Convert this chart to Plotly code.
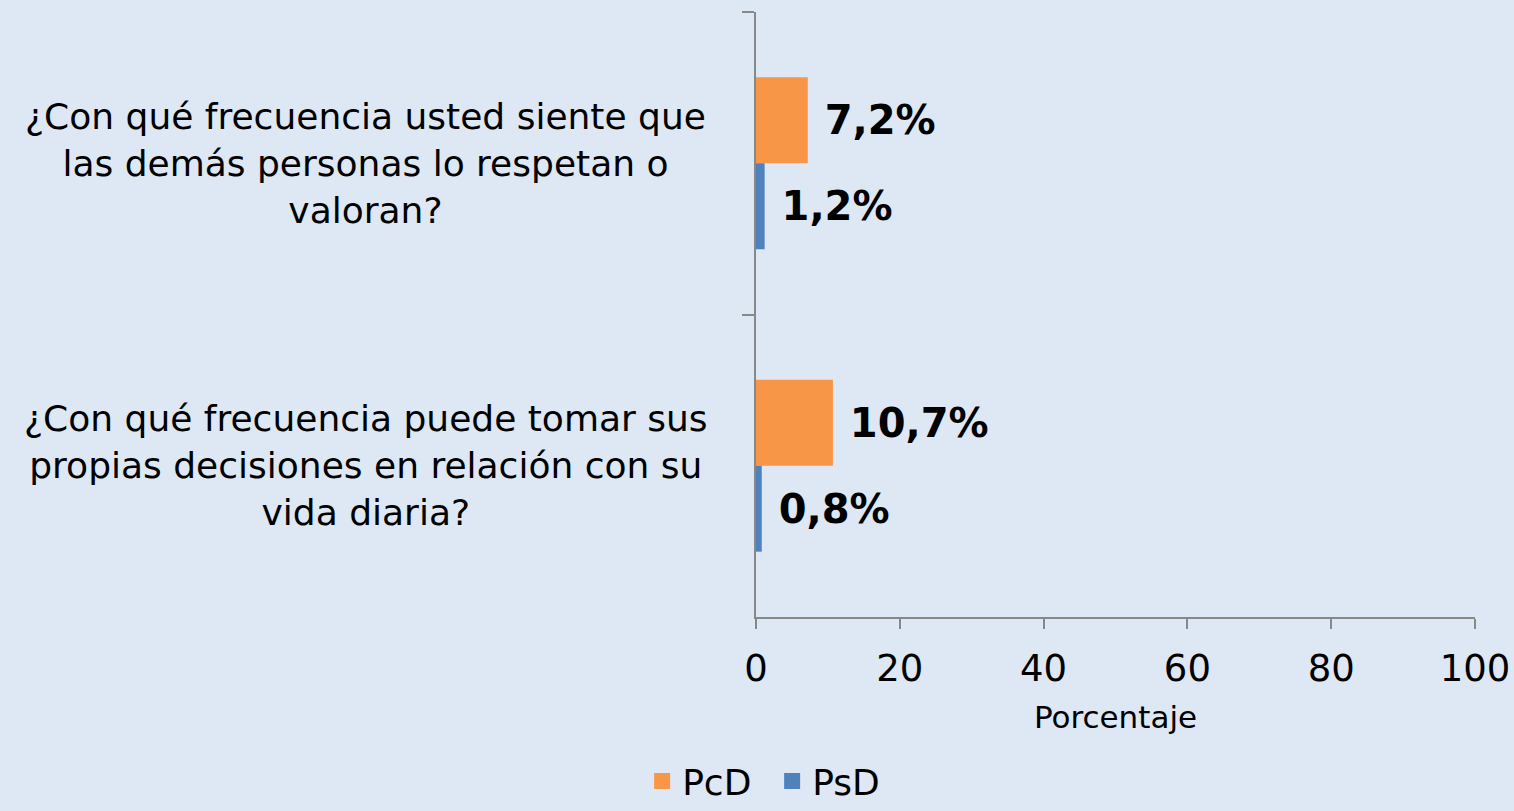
import plotly.graph_objects as go

categorias = [
    "¿Con qué frecuencia usted siente que<br>las demás personas lo respetan o<br>valoran?",
    "¿Con qué frecuencia puede tomar sus<br>propias decisiones en relación con su<br>vida diaria?",
]
claves = ["q1", "q2"]
series = ["PcD", "PsD"]
colores = ["#f79646", "#4f81bd"]
pcd = [7.2, 10.7]
psd = [1.2, 0.8]
etiquetas_pcd = ["7,2%", "10,7%"]
etiquetas_psd = ["1,2%", "0,8%"]

fondo = "#dde8f4"
fuente = "DejaVu Sans"

fig = go.Figure()
for nombre, color, valores, etiquetas in zip(series, colores, [pcd, psd],
                                              [etiquetas_pcd, etiquetas_psd]):
    fig.add_bar(y=claves, x=valores, orientation="h", name=nombre, showlegend=False,
                marker=dict(color=color, line=dict(width=0)),
                text=["\u00a0" + t for t in etiquetas], textposition="outside",
                textfont=dict(family=fuente, size=40, color="black", weight="bold"),
                constraintext="none", cliponaxis=False)
    # marcador de leyenda más grande que el de las barras
    fig.add_scatter(x=[None], y=[None], mode="markers", name=nombre,
                    marker=dict(symbol="square", size=20, color=color))

# etiquetas de categoría centradas, a la izquierda del eje
for c, txt in zip(claves, categorias):
    fig.add_annotation(x=-0.543, xref="paper", y=c, yref="y", text=txt,
                       showarrow=False, align="center", xanchor="center",
                       font=dict(family=fuente, size=36, color="black"))

fig.update_layout(
    width=1514, height=811,
    paper_bgcolor=fondo, plot_bgcolor=fondo,
    margin=dict(l=756, r=39, t=12, b=194),
    barmode="group", bargap=0.432, bargroupgap=0,
    font=dict(family=fuente, color="black"),
    legend=dict(orientation="h", xref="container", yref="container",
                x=0.51, y=0.0, xanchor="center", yanchor="bottom",
                font=dict(size=36), itemwidth=30, entrywidth=85,
                entrywidthmode="pixels", bgcolor="rgba(0,0,0,0)"),
    showlegend=True,
)
fig.update_xaxes(range=[0, 100], dtick=20, showgrid=False, zeroline=False,
                 showline=True, linecolor="#888888", linewidth=2,
                 ticks="outside", ticklen=10, tickcolor="#888888", tickwidth=2,
                 tickfont=dict(size=37), ticklabelstandoff=8, automargin=False,
                 title=dict(text="Porcentaje", font=dict(size=31), standoff=17))
fig.update_yaxes(autorange="reversed", showgrid=False, showticklabels=False,
                 showline=True, linecolor="#888888", linewidth=2,
                 ticks="outside", ticklen=12, tickcolor="#888888", tickwidth=2,
                 tickson="boundaries", fixedrange=True, automargin=False)

fig.write_html("out.html", config={"displayModeBar": False},
               post_script="document.body.style.margin='0';"
                           "document.body.style.background='" + fondo + "';")
